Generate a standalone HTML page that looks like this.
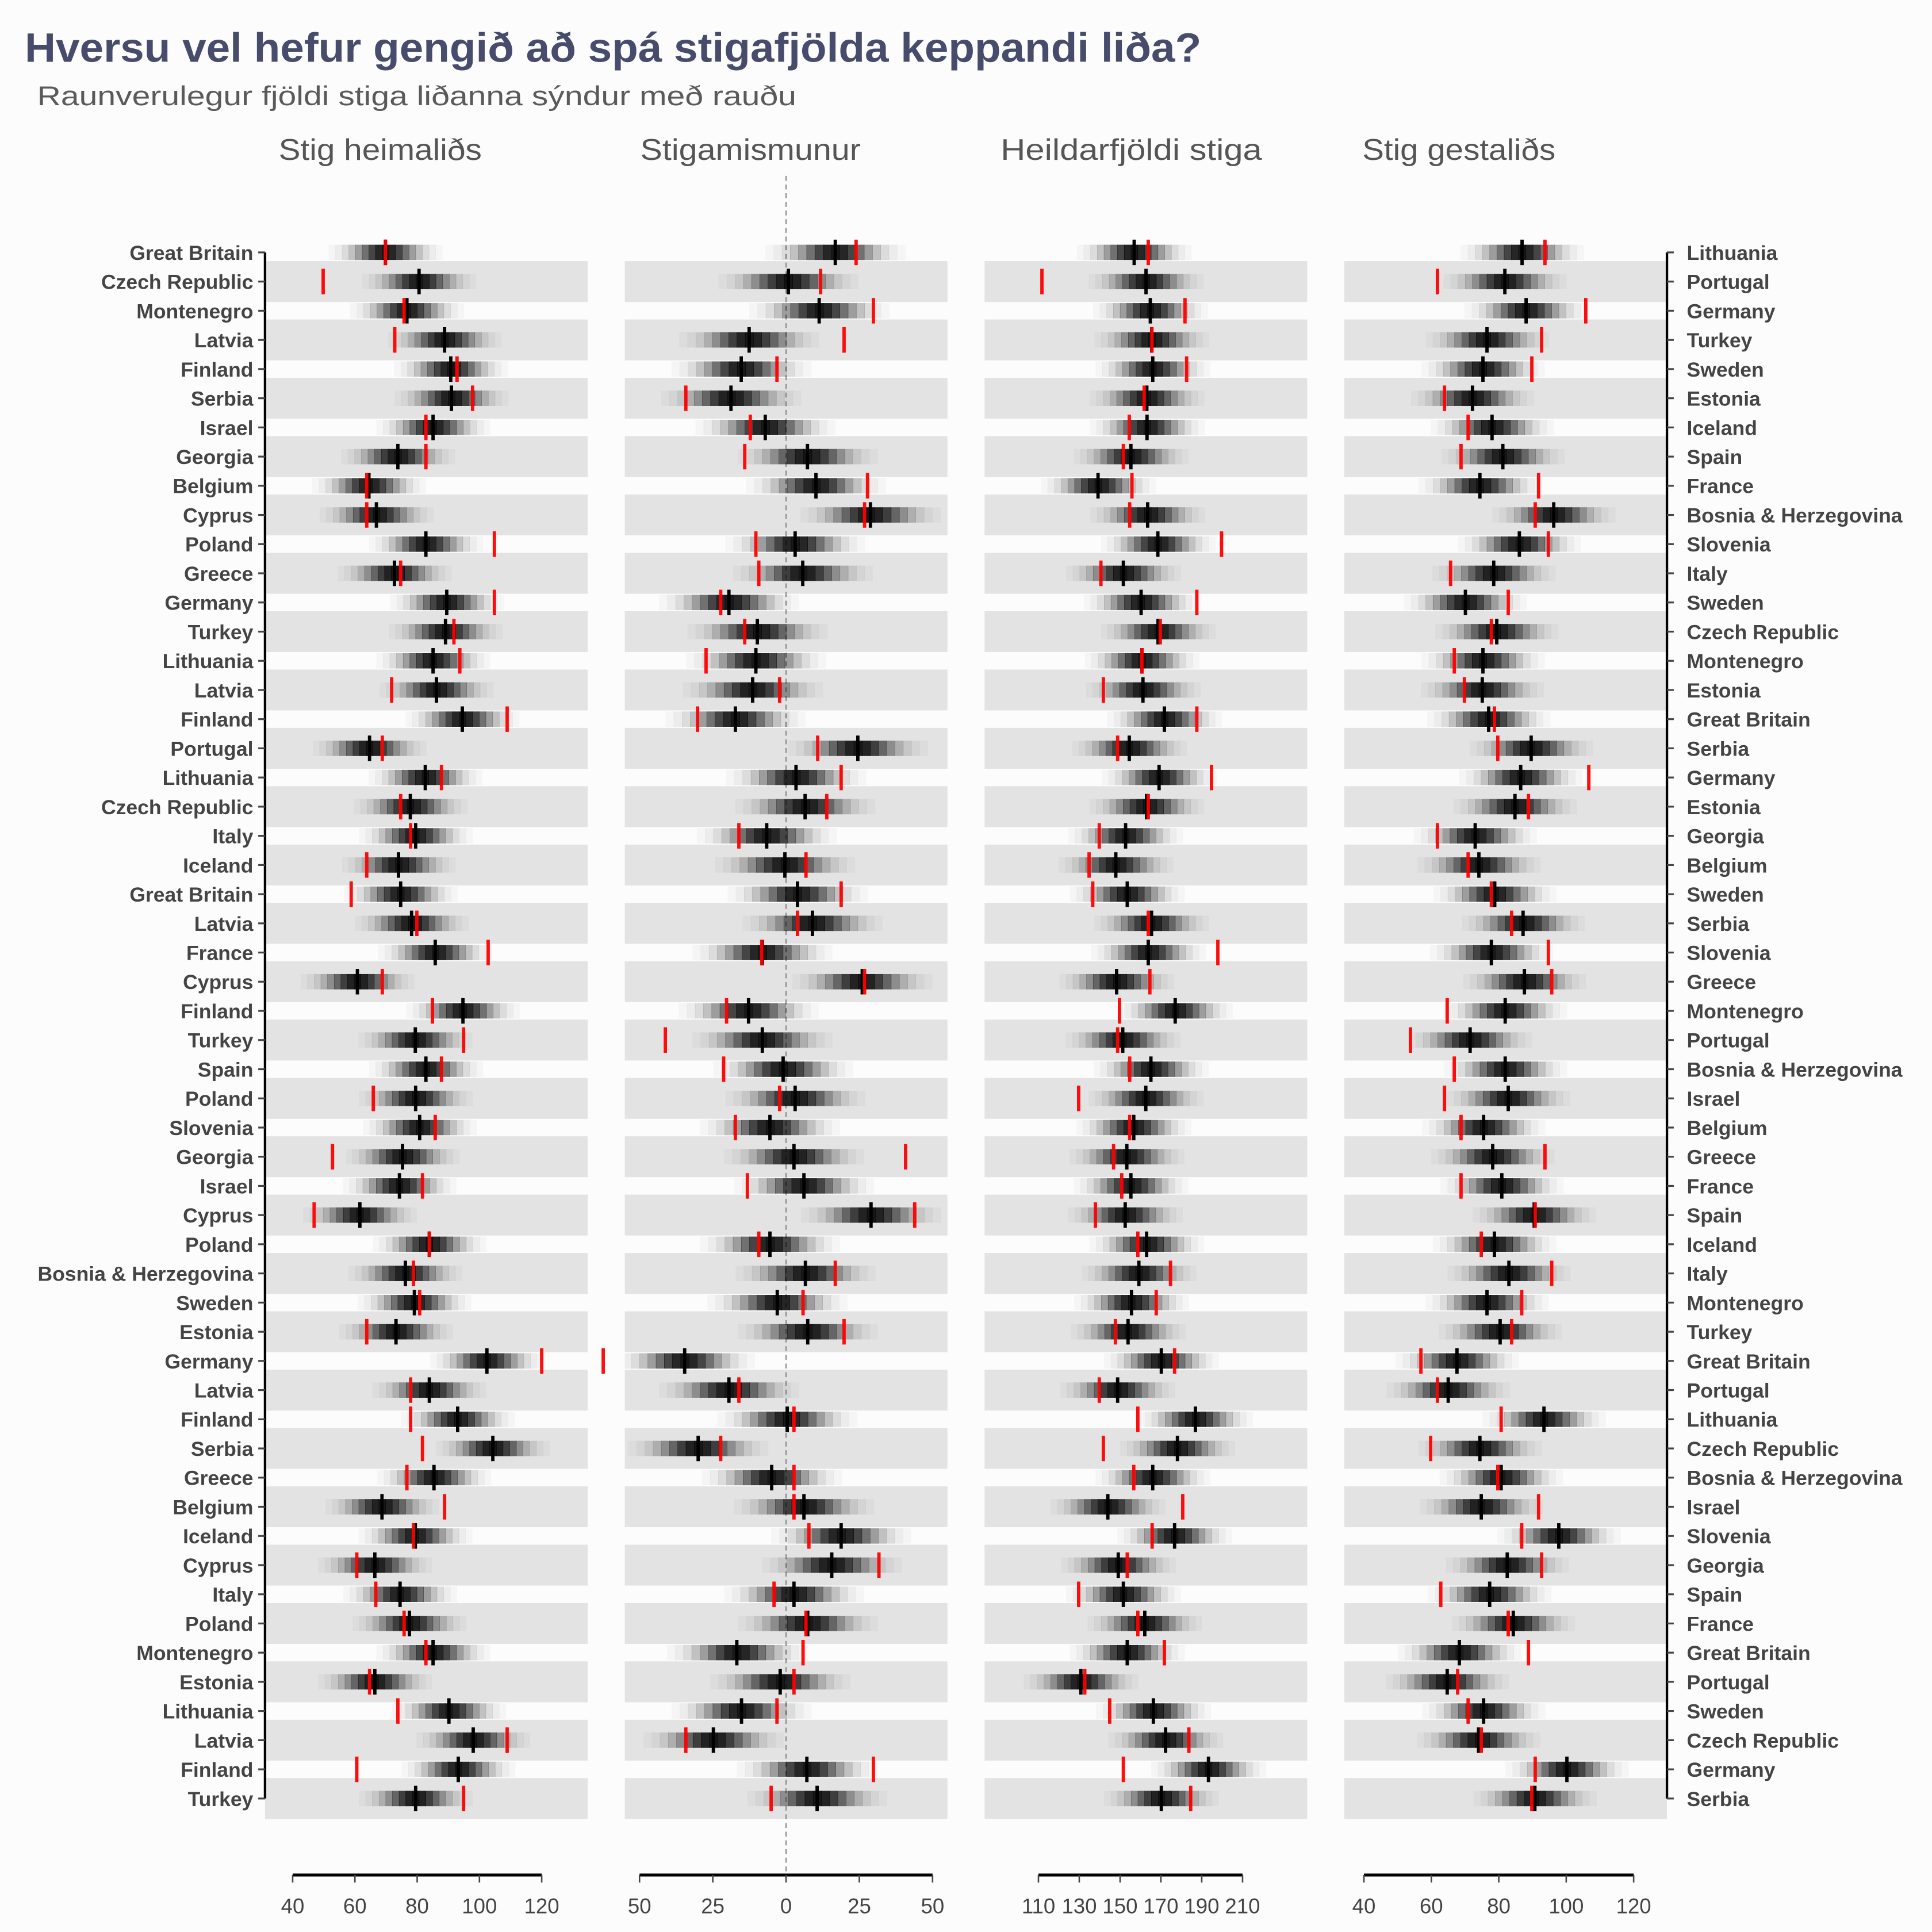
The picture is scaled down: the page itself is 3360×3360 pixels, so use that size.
<!DOCTYPE html>
<html>
<head>
<meta charset="utf-8">
<style>
  html, body { margin: 0; padding: 0; background: #fcfcfc; }
  svg { display: block; }
  text { font-family: "Liberation Sans", sans-serif; }
</style>
</head>
<body>
<svg id="chart" width="3360" height="3360" viewBox="0 0 1560 1560" xmlns="http://www.w3.org/2000/svg">
  <rect x="0" y="0" width="1560" height="1560" fill="#fcfcfc"/>
  <text x="20" y="50" font-size="33" font-weight="bold" fill="#484c6c" textLength="950" lengthAdjust="spacingAndGlyphs">Hversu vel hefur gengið að spá stigafjölda keppandi liða?</text>
  <text x="30" y="85" font-size="22" fill="#5a5a5a" textLength="613" lengthAdjust="spacingAndGlyphs">Raunverulegur fjöldi stiga liðanna sýndur með rauðu</text>
  <g id="plot"></g>
</svg>
<script>
const homeTeams = ["Great Britain","Czech Republic","Montenegro","Latvia","Finland","Serbia","Israel","Georgia","Belgium","Cyprus","Poland","Greece","Germany","Turkey","Lithuania","Latvia","Finland","Portugal","Lithuania","Czech Republic","Italy","Iceland","Great Britain","Latvia","France","Cyprus","Finland","Turkey","Spain","Poland","Slovenia","Georgia","Israel","Cyprus","Poland","Bosnia & Herzegovina","Sweden","Estonia","Germany","Latvia","Finland","Serbia","Greece","Belgium","Iceland","Cyprus","Italy","Poland","Montenegro","Estonia","Lithuania","Latvia","Finland","Turkey"];
const awayTeams = ["Lithuania","Portugal","Germany","Turkey","Sweden","Estonia","Iceland","Spain","France","Bosnia & Herzegovina","Slovenia","Italy","Sweden","Czech Republic","Montenegro","Estonia","Great Britain","Serbia","Germany","Estonia","Georgia","Belgium","Sweden","Serbia","Slovenia","Greece","Montenegro","Portugal","Bosnia & Herzegovina","Israel","Belgium","Greece","France","Spain","Iceland","Italy","Montenegro","Turkey","Great Britain","Portugal","Lithuania","Czech Republic","Bosnia & Herzegovina","Israel","Slovenia","Georgia","Spain","France","Great Britain","Portugal","Sweden","Czech Republic","Germany","Serbia"];

const homeMed = [69.8,80.6,76.7,88.8,90.8,91.0,85.1,73.8,64.5,66.9,82.8,72.7,89.5,89.1,85.1,86.2,94.5,64.7,82.6,77.8,79.5,74.0,74.7,78.2,85.8,60.8,94.7,79.4,82.8,79.5,80.8,75.3,74.3,61.6,83.9,76.2,79.1,73.2,102.4,83.9,93.0,104.3,85.4,68.7,79.4,66.4,74.5,77.5,85.1,66.4,90.2,98.0,93.2,79.5];
const homeAct = [69.8,49.8,75.8,72.8,92.8,97.8,82.8,82.8,63.8,63.8,104.8,74.7,104.8,91.8,93.7,71.8,108.9,68.8,87.8,74.7,77.9,63.8,58.8,79.9,102.8,68.8,84.9,94.9,87.8,65.9,85.8,52.8,81.7,46.9,83.9,78.8,80.8,63.8,120.0,77.9,77.9,81.7,76.7,88.8,78.8,60.6,66.7,75.8,82.8,64.7,73.8,108.9,60.6,94.9];

const diffMed = [16.8,0.8,11.3,-12.6,-15.3,-18.8,-7.1,7.3,10.2,28.8,3.1,5.7,-19.5,-9.8,-10.3,-11.4,-17.3,24.5,3.4,6.5,-6.6,-0.4,3.9,9.0,-8.1,26.0,-12.8,-8.1,-1.0,3.1,-5.5,2.7,6.1,29.0,-5.5,6.6,-3.0,7.4,-34.6,-19.5,0.4,-30.0,-4.9,6.1,18.8,15.6,2.7,7.4,-16.8,-2.0,-15.2,-24.8,7.1,10.6];
const diffAct = [23.9,11.8,29.8,19.8,-3.1,-34.2,-12.2,-14.1,27.8,26.8,-10.3,-9.3,-22.3,-14.1,-27.3,-2.2,-30.2,10.8,18.8,13.9,-16.1,6.8,18.8,3.9,-8.3,26.8,-20.3,-41.2,-21.3,-2.2,-17.3,40.8,-13.2,43.9,-9.3,16.8,5.8,19.8,-62.4,-16.1,2.7,-22.3,2.7,2.7,7.8,31.7,-4.1,6.8,5.8,2.7,-3.1,-34.2,29.8,-5.1];

const totMed = [156.9,162.7,164.8,165.5,166.0,163.1,163.2,155.3,139.2,163.5,168.5,151.6,160.3,168.6,160.7,161.2,171.7,154.5,169.1,163.0,152.7,147.9,153.5,165.4,163.8,148.3,177.0,151.3,165.1,162.6,156.7,153.3,155.3,152.5,163.0,159.2,155.6,153.9,170.2,148.8,186.9,178.1,166.0,144.0,176.7,149.1,151.6,162.1,153.5,130.8,166.3,172.3,193.3,170.2];
const totAct = [163.8,111.7,181.8,165.6,182.6,161.8,154.5,151.6,155.8,154.7,199.7,140.6,187.6,169.7,160.7,141.8,187.6,148.8,194.8,163.8,139.8,134.8,136.6,163.8,197.9,164.6,149.7,148.8,154.7,129.7,154.7,146.8,150.8,137.9,158.7,174.7,167.7,147.7,176.7,139.8,158.7,141.8,156.7,180.7,165.7,153.5,129.7,158.7,171.7,132.7,144.9,183.7,151.6,184.6];

const awayMed = [86.9,81.8,88.1,76.5,75.3,72.2,78.0,81.2,74.4,96.3,86.1,78.5,70.1,79.4,75.3,75.1,77.0,89.6,86.5,84.8,73.0,74.1,78.8,87.2,77.8,87.6,81.9,71.5,81.9,82.8,75.5,78.2,80.9,90.5,78.7,83.0,76.5,80.4,67.6,65.0,93.4,74.4,80.7,74.8,97.8,82.5,77.3,84.3,68.3,64.7,75.5,74.0,100.2,90.7];
const awayAct = [93.7,61.8,105.8,92.7,89.8,63.9,70.9,68.8,91.8,90.8,94.7,65.7,82.8,77.8,66.8,69.8,78.7,79.7,106.7,88.8,61.8,70.9,77.8,83.8,94.7,95.7,64.7,53.8,66.8,63.9,68.8,93.7,68.8,90.8,74.8,95.7,86.8,83.8,56.9,61.8,80.7,59.8,79.7,91.8,86.8,92.7,62.8,82.8,88.8,67.8,70.9,74.8,90.8,89.8];

const panelTitles = ["Stig heimaliðs","Stigamismunur","Heildarfjöldi stiga","Stig gestaliðs"];
const panelSpread = [6.5, 8.5, 10, 6.5];
const tickVals1 = [40,60,80,100,120];
const tickVals2 = [-50,-25,0,25,50];
const tickLabels2 = ["50","25","0","25","50"];
const tickVals3 = [110,130,150,170,190,210];
const tickVals4 = [40,60,80,100,120];

const NS = "http://www.w3.org/2000/svg";
const plot = document.getElementById("plot");
function mk(tag, attrs, parent) {
  const e = document.createElementNS(NS, tag);
  for (const k in attrs) e.setAttribute(k, attrs[k]);
  (parent || plot).appendChild(e);
  return e;
}

const rowY = i => 203.8 + i * 23.555;
const sx1 = v => 236.3 + (v - 40) * (437.4 - 236.3) / 80;
const sx2 = v => 634.7 + v * 2.366;
const sx3 = v => 838.5 + (v - 110) * (1003.3 - 838.5) / 100;
const sx4 = v => 1101.3 + (v - 40) * (1319.1 - 1101.3) / 80;

const panels = [
  {x0: 214, x1: 474.5, sx: sx1, med: homeMed, act: homeAct, ticks: tickVals1, labels: tickVals1.map(String), tx: 225, tw: 164},
  {x0: 504.5, x1: 765, sx: sx2, med: diffMed, act: diffAct, ticks: tickVals2, labels: tickLabels2, tx: 517, tw: 178},
  {x0: 795, x1: 1055.5, sx: sx3, med: totMed, act: totAct, ticks: tickVals3, labels: tickVals3.map(String), tx: 808, tw: 211},
  {x0: 1085.5, x1: 1346, sx: sx4, med: awayMed, act: awayAct, ticks: tickVals4, labels: tickVals4.map(String), tx: 1100, tw: 156}
];
const n = homeTeams.length;

panels.forEach((p, pi) => {
  const g = mk("g", {});
  
  

  const clip = mk("clipPath", {id: "clip" + pi}, g);
  mk("rect", {x: p.x0, y: 150, width: p.x1 - p.x0, height: 1330}, clip);

  const t = mk("text", {x: p.tx, y: 129, "font-size": 24, fill: "#555555", textLength: p.tw, lengthAdjust: "spacingAndGlyphs"}, g);
  t.textContent = panelTitles[pi];
  
  

  for (let i = 0; i < n; i++) {
    if (i % 2 === 1) {
      const b = mk("rect", {x: p.x0, y: rowY(i) - 16.5, width: p.x1 - p.x0, height: 33, fill: "#e3e3e3"}, g);
      
      
    }
  }
  if (pi === 1) {
    const dl = mk("line", {x1: sx2(0), x2: sx2(0), y1: 142, y2: 1514, stroke: "#8a8a8a", "stroke-width": 1, "stroke-dasharray": "4,3"}, g);
    
    
  }
  const sd = panelSpread[pi];
  const step = sd * 0.33;
  const dg = mk("g", {"clip-path": "url(#clip" + pi + ")"}, g);
  for (let i = 0; i < n; i++) {
    const m = p.med[i];
    const y = rowY(i);
    const dens = mk("g", {}, dg);
    
    
    for (let k = -11; k <= 11; k++) {
      const c = m + k * step;
      const z = (k * step) / sd;
      const op = 0.9 * Math.exp(-z * z / 2);
      if (op < 0.015) continue;
      const xa = p.sx(c - step / 2), xb = p.sx(c + step / 2);
      mk("rect", {x: Math.min(xa, xb), y: y - 6.2, width: Math.abs(xb - xa) + 0.3, height: 12.4, fill: "#000", "fill-opacity": op.toFixed(3)}, dens);
    }
  }
  for (let i = 0; i < n; i++) {
    const y = rowY(i);
    const bm = mk("rect", {x: p.sx(p.med[i]) - 1.35, y: y - 10.3, width: 2.7, height: 20.6, fill: "#000"}, g);
    
    
    const ra = mk("rect", {x: p.sx(p.act[i]) - 1.35, y: y - 10.3, width: 2.7, height: 20.6, fill: "#ff0000", "fill-opacity": 0.95}, g);
    
    
  }
  const ax = mk("g", {}, g);
  
  
  const xa0 = p.sx(p.ticks[0]), xa1 = p.sx(p.ticks[p.ticks.length - 1]);
  mk("line", {x1: Math.min(xa0, xa1), x2: Math.max(xa0, xa1), y1: 1514, y2: 1514, stroke: "#000", "stroke-width": 2.4}, ax);
  p.ticks.forEach((tv, ti) => {
    const x = p.sx(tv);
    mk("line", {x1: x, x2: x, y1: 1514, y2: 1520, stroke: "#444", "stroke-width": 1.2}, ax);
    const tl = mk("text", {x: x, y: 1545, "font-size": 17, fill: "#444", "text-anchor": "middle"}, ax);
    tl.textContent = p.labels[ti];
    
    
  });
});

const la = mk("g", {});


mk("line", {x1: 214, x2: 214, y1: rowY(0), y2: rowY(n - 1), stroke: "#000", "stroke-width": 2}, la);
const ra = mk("g", {});


mk("line", {x1: 1346, x2: 1346, y1: rowY(0), y2: rowY(n - 1), stroke: "#000", "stroke-width": 2}, ra);
for (let i = 0; i < n; i++) {
  const y = rowY(i);
  mk("line", {x1: 208.5, x2: 214, y1: y, y2: y, stroke: "#444", "stroke-width": 1.5}, la);
  const lt = mk("text", {x: 204.5, y: y + 6, "font-size": 16.5, "font-weight": "bold", fill: "#444", "text-anchor": "end"}, la);
  lt.textContent = homeTeams[i];
  
  
  mk("line", {x1: 1346, x2: 1351.5, y1: y, y2: y, stroke: "#444", "stroke-width": 1.5}, ra);
  const rt = mk("text", {x: 1362, y: y + 6, "font-size": 16.5, "font-weight": "bold", fill: "#444"}, ra);
  rt.textContent = awayTeams[i];
  
  
}
</script>
</body>
</html>
